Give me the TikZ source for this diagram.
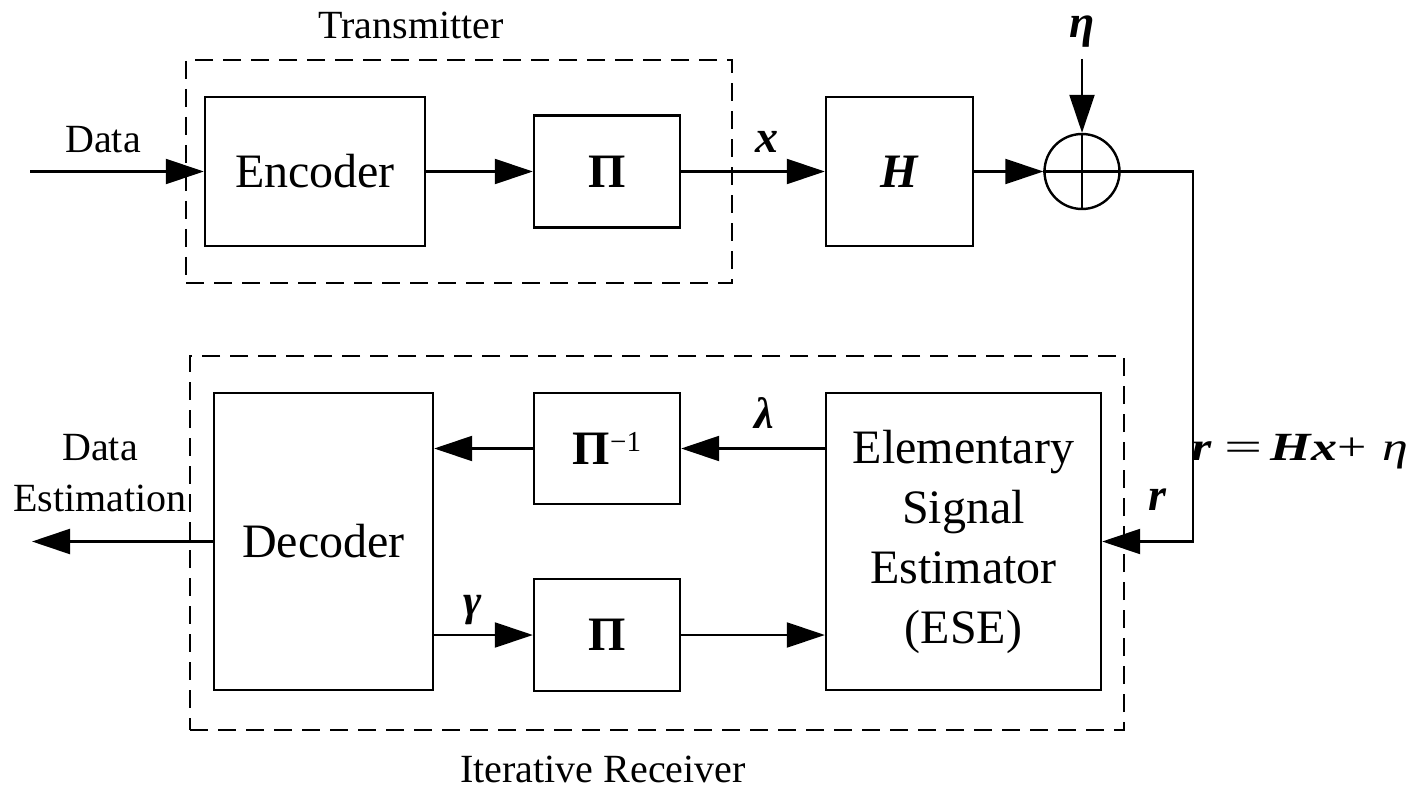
\documentclass[tikz,border=0pt]{standalone}
\usepackage{fontspec}
\setmainfont{Liberation Serif}
\usepackage{graphicx}
\usetikzlibrary{arrows.meta}
\tikzset{
  blk/.style={draw, line width=2.4pt, inner sep=0pt, font=\fontsize{48}{60}\selectfont, align=center},
  dashbox/.style={draw, line width=2.4pt, dash pattern=on 18pt off 10pt, inner sep=0pt},
  conn/.style={line width=2.2pt, -{Triangle[length=38pt,width=25pt]}},
  wire/.style={line width=2.2pt},
  lbl/.style={font=\fontsize{40}{51}\selectfont, inner sep=0pt, anchor=base},
  sym/.style={font=\fontsize{46}{50}\selectfont\bfseries\itshape, inner sep=0pt, anchor=base},
}
\begin{document}
\begin{tikzpicture}[x=1pt,y=-1pt]
\useasboundingbox (0,0) rectangle (1412,791);
% dashed groups
\node[dashbox, minimum width=546pt, minimum height=223pt] (tx) at (459,171.5) {};
\node[dashbox, minimum width=934pt, minimum height=374pt] (rx) at (657,543) {};
\node[lbl] (txl) at (411,39) {Transmitter};
\node[lbl] (rxl) at (603,782) {Iterative Receiver};
% blocks
\node[blk, minimum width=220pt, minimum height=149pt] (enc) at (315,171.5) {Encoder};
\node[blk, minimum width=146pt, minimum height=112pt] (pt) at (607,171.5) {\textbf{Π}};
\node[blk, minimum width=147pt, minimum height=149pt] (h) at (899.5,171.5) {\textbf{\textit{H}}};
\node[draw, line width=2.4pt, circle, minimum size=75pt, inner sep=0pt] (sum) at (1082,171.5) {};
\node[blk, minimum width=219pt, minimum height=297pt] (dec) at (323.5,541.5) {Decoder};
\node[blk, minimum width=146pt, minimum height=111pt] (pinv) at (607,448.5) {\textbf{Π}\raisebox{13.5pt}{\fontsize{29}{29}\selectfont −1}};
\node[blk, minimum width=146pt, minimum height=112pt] (pb) at (607,635) {\textbf{Π}};
\node[blk, minimum width=275pt, minimum height=297pt] (ese) at (963.5,541.5) {Elementary\\Signal\\Estimator\\(ESE)};
% coordinates
\coordinate (din) at (30,171.5);
\coordinate (eta) at (1082,59);
\coordinate (corner) at (1193,171.5);
\coordinate (dout) at (32,541.5);
% sum cross
\draw[wire] (sum.north) -- (sum.south);
\draw[wire] (sum.west) -- (sum.east);
% connectors
\draw[conn] (din) -- (enc.west);
\draw[conn] (enc.east) -- (pt.west);
\draw[conn] (pt.east) -- (h.west);
\draw[conn] (h.east) -- (sum.west);
\draw[conn] (eta) -- (sum.north);
\draw[conn] (sum.east) -- (corner) |- (ese.east);
\draw[conn] (ese.west |- pinv.east) -- (pinv.east);
\draw[conn] (pinv.west) -- (dec.east |- pinv.west);
\draw[conn] (dec.east |- pb.west) -- (pb.west);
\draw[conn] (pb.east) -- (ese.west |- pb.east);
\draw[conn] (dec.west) -- (dout);
% labels
\node[lbl] (datal) at (103,152.7) {Data};
\node[lbl, align=center] (destl) at (100,511) {Data\\Estimation};
\node[sym] (xl) at (767,153) {x};
\node[sym, font=\fontsize{46}{50}\selectfont\bfseries\itshape] (etal) at (1082,38) {η};
\node[sym, font=\fontsize{44}{50}\selectfont\bfseries\itshape] (laml) at (764,428) {λ};
\node[sym, font=\fontsize{44}{50}\selectfont\bfseries\itshape] (gaml) at (473,615) {γ};
\node[sym] (rl) at (1157,510) {r};
\node[inner sep=0pt, anchor=base west, font=\fontsize{40}{48}\selectfont] (eq) at (1191,460.7)
  {\scalebox{1.3}[1]{\textbf{\textit{r}}\hspace{10pt}\scalebox{1.3}[1]{=}\hspace{6pt}\textbf{\textit{Hx}}+\hspace{12pt}\textit{η}}};
\end{tikzpicture}
\end{document}
